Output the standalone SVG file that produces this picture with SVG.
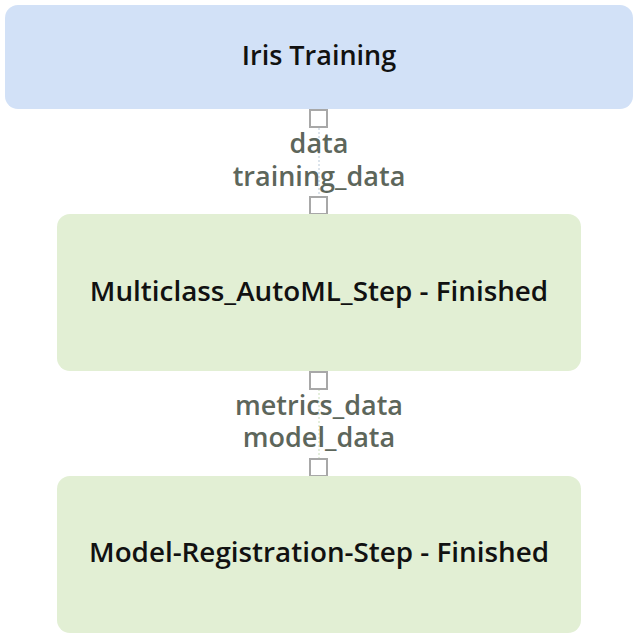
<svg xmlns="http://www.w3.org/2000/svg" width="638" height="637" viewBox="0 0 638 637">
<style>
.node-text{font-family:"Open Sans","Noto Sans",sans-serif;font-size:27.8px;font-weight:600;fill:#111;text-anchor:middle}
.label{font-family:"Open Sans","Noto Sans",sans-serif;font-size:27px;font-weight:600;fill:#5d665b;text-anchor:middle}
.port{fill:#fff;stroke:#a8a8a8;stroke-width:2}
.edge{stroke:#b8c8d8;stroke-width:1;stroke-dasharray:2 2;fill:none}
</style>
<rect width="638" height="637" fill="#fff"/>
<g id="connectors">
<line class="edge" x1="319" y1="128" x2="319" y2="196"/>
<line class="edge" x1="319" y1="389" x2="319" y2="458" style="stroke:#c8dcb8"/>
<text class="label" x="319" y="153">data</text>
<text class="label" x="319" y="186">training_data</text>
<text class="label" x="319" y="415">metrics_data</text>
<text class="label" x="319" y="447">model_data</text>
<rect class="port" x="310" y="110" width="17" height="17"/>
<rect class="port" x="310" y="197" width="17" height="17"/>
<rect class="port" x="310" y="372" width="17" height="17"/>
<rect class="port" x="310" y="459" width="17" height="17"/>
</g>
<g id="iris-training">
<rect x="5" y="5" width="628" height="104" rx="13" fill="#d2e1f7"/>
<text class="node-text" x="319" y="65" style="font-size:27px">Iris Training</text>
</g>
<g id="multiclass-automl-step">
<rect x="57" y="214" width="524" height="157" rx="13" fill="#e2efd4"/>
<text class="node-text" x="319" y="301">Multiclass_AutoML_Step - Finished</text>
</g>
<g id="model-registration-step">
<rect x="57" y="476" width="524" height="157" rx="13" fill="#e2efd4"/>
<text class="node-text" x="319" y="562">Model-Registration-Step - Finished</text>
</g>
</svg>
